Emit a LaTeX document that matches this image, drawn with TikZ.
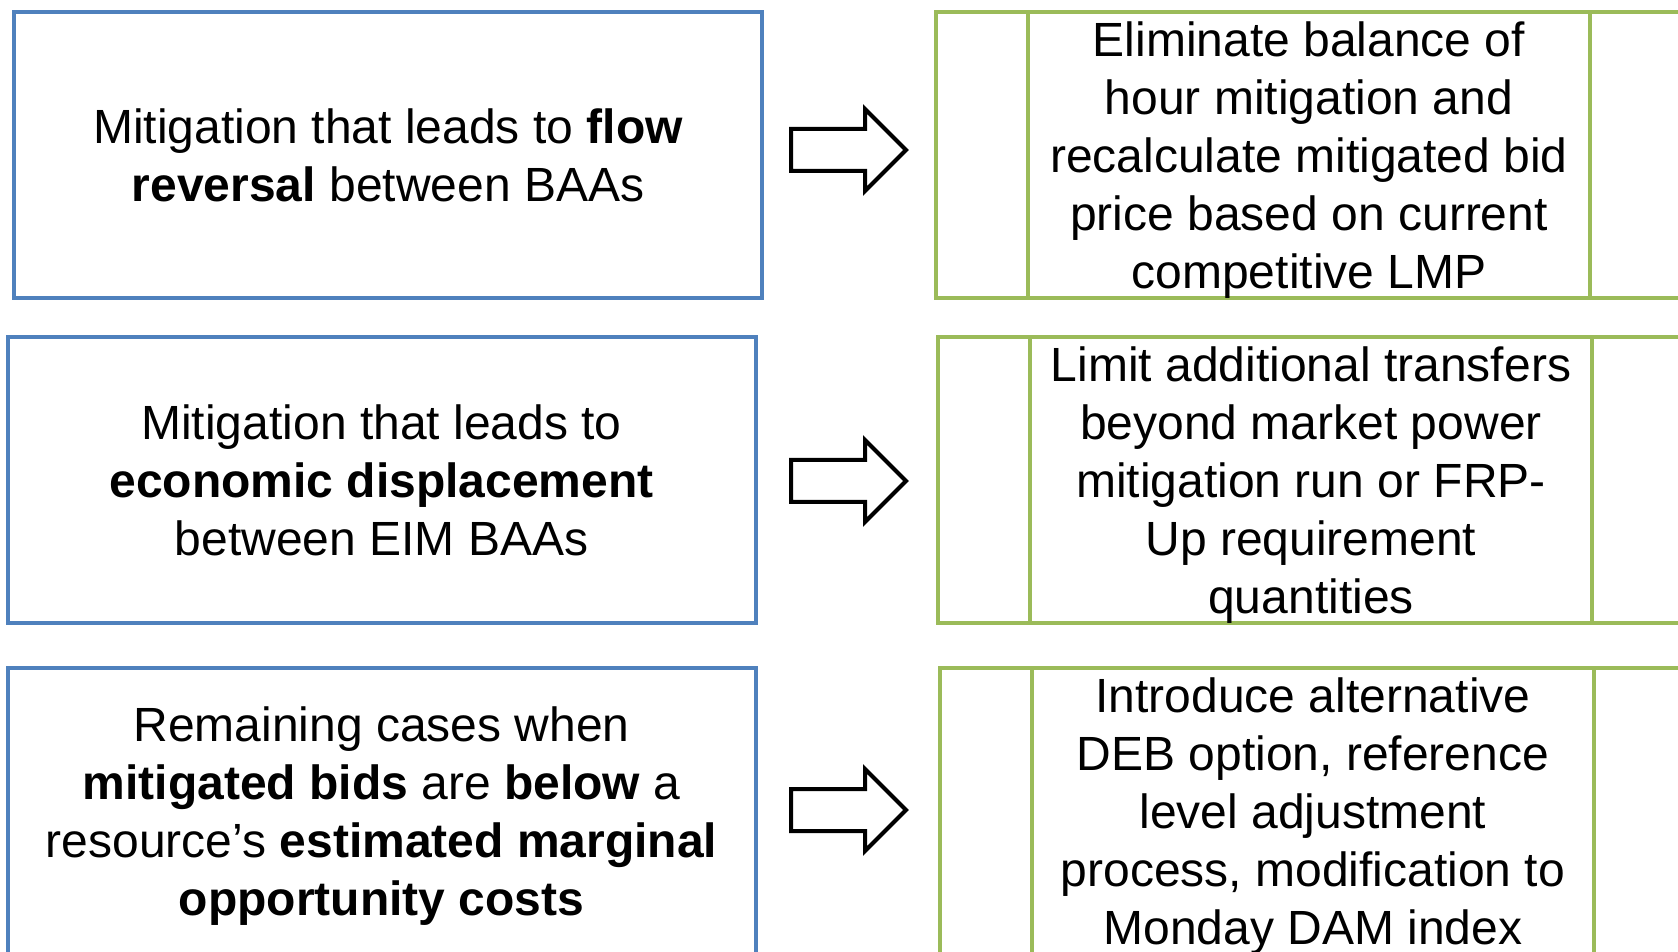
\documentclass[tikz,border=0pt]{standalone}
\usepackage{fontspec}
\setmainfont{Liberation Sans}
\usetikzlibrary{positioning}
\usetikzlibrary{shapes.arrows}
\definecolor{eim-blue}{HTML}{4F81BD}
\definecolor{eim-green}{HTML}{9BBB59}

\begin{document}
\begin{tikzpicture}[x=0.5pt, y=-0.5pt, font=\fontsize{24}{29}\selectfont,
  text lines/.style={inner sep=0pt, align=center, text depth=0pt},
  cause box/.style={text lines, draw=eim-blue, line width=2pt, minimum width=374pt, minimum height=143pt},
  remedy box/.style={text lines, draw=eim-green, line width=2pt, minimum width=281pt, minimum height=143pt, outer sep=0pt},
  side box/.style={draw=eim-green, line width=2pt, minimum width=46pt, minimum height=143pt, inner sep=0pt, outer sep=0pt},
  block arrow/.style={draw, line width=2pt, single arrow, single arrow head extend=10pt, minimum height=57.5pt, inner xsep=0pt, inner ysep=9.5pt, anchor=tail}]
\useasboundingbox (0,0) rectangle (1678,952);
\clip (0,0) rectangle (1678,952);
\foreach \i/\ypos/\ay/\cx/\rx/\cause/\remedy in {
    1/155/150/388/1309/{Mitigation that leads to \textbf{flow}\\\textbf{reversal} between BAAs}/{Eliminate balance of\\hour mitigation and\\recalculate mitigated bid\\price based on current\\competitive LMP},
    2/480/481/381.5/1311/{Mitigation that leads to\\\textbf{economic displacement}\\between EIM BAAs}/{Limit additional transfers\\beyond market power\\mitigation run or FRP-\\Up requirement\\quantities},
    3/811/810/381.5/1313/{Remaining cases when\\\textbf{mitigated bids} are \textbf{below} a\\resource’s \textbf{estimated marginal}\\\textbf{opportunity costs}}/{Introduce alternative\\DEB option, reference\\level adjustment\\process, modification to\\Monday DAM index}} {
  \node[cause box]
    (cause-\i)
    at (\cx, \ypos)
    {\cause};
  \node[remedy box]
    (remedy-\i)
    at (\rx, \ypos)
    {\remedy};
  \node[side box, left=0pt of remedy-\i] (left-\i) {};
  \node[side box, right=0pt of remedy-\i] (right-\i) {};
  \node[block arrow]
    (arrow-\i)
    at (789, \ay)
    {};
}
\end{tikzpicture}
\end{document}
